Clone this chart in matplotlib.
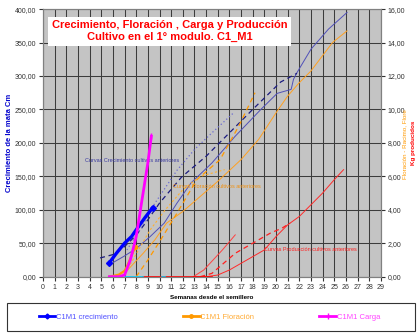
import matplotlib
matplotlib.use("Agg")
import matplotlib.pyplot as plt
from matplotlib.lines import Line2D
from matplotlib.patches import Rectangle
from matplotlib.ticker import FuncFormatter

plt.rcParams['font.family'] = ['Liberation Sans', 'DejaVu Sans']

# --- datos C1M1 (semanas, valor) ---
crec_sem = [5.7, 6.3, 7.0, 7.6, 8.0, 8.7, 9.4]
crec_val = [21, 35, 50, 60, 70, 87, 103]          # cm (eje izq.)

flor_sem = [5.7, 6.5, 7.0, 7.2, 7.9]
flor_val = [0.0, 0.12, 0.35, 0.6, 1.75]           # eje der.

carga_sem = [5.7, 6.0, 6.5, 7.0, 7.5, 8.0, 8.5, 9.0, 9.3]
carga_val = [0.0, 0.0, 0.0, 0.1, 1.0, 2.4, 4.6, 6.8, 8.4]   # eje der.

cyan_sem = [7.0, 7.5, 8.0, 8.6]
cyan_val = [0, 0, 0, 0]
cyan2_sem = [10.2, 10.5]
cyan2_val = [0, 0]
rojo0_sem = [8.6, 14.5]
rojo0_val = [0, 0]

# --- curvas cultivos anteriores ---
# crecimiento (eje izq.)
b1_sem = [5.9, 6.9, 8, 9.2, 10.4, 11.5, 12.7, 14.5, 16.5, 18.7, 20.1, 21.3, 21.5, 21.8, 23, 24.5, 26.1]
b1_val = [20, 30, 42, 60, 80, 110, 140, 170, 210, 250, 274, 280, 295, 305, 340, 370, 395]
b2_sem = [4.9, 6.0, 7.0, 8.0, 9.0, 10.0, 11.9, 14, 16, 18, 20.4, 21.8]
b2_val = [28, 33, 45, 62, 85, 110, 149, 180, 215, 250, 291, 304]
b3_sem = [7.2, 8.5, 9.5, 11.5, 13, 14.5, 16.3]
b3_val = [40, 75, 107, 159, 190, 215, 244]

# floracion (eje der.)
o1_sem = [7.0, 7.8, 8.6, 9.6, 10.6, 12, 13.5, 15, 17, 18.5, 20.1, 20.4, 21, 22, 23, 24.85, 26.1]
o1_val = [0.2, 0.8, 1.4, 2.2, 3.2, 3.9, 4.8, 5.7, 7.0, 8.2, 9.9, 10.2, 10.8, 11.6, 12.3, 14.0, 14.7]
o2_sem = [8.0, 9, 10.1, 11.5, 13.2, 15.2, 16.8, 18.2]
o2_val = [0, 1.0, 2.2, 3.8, 5.8, 7.0, 9.0, 11.0]
o3_sem = [7.3, 8.2, 9.2, 10.5, 12, 13.5, 15.6]
o3_val = [0.5, 1.6, 2.8, 4.0, 5.2, 6.0, 6.4]

# produccion (eje der.)
r1_sem = [13, 14, 15, 16, 17, 18, 19, 20, 21, 22, 23, 24, 25, 25.8]
r1_val = [0, 0, 0.1, 0.4, 0.8, 1.2, 1.6, 2.4, 3.1, 3.6, 4.3, 5.0, 5.8, 6.4]
r2_sem = [13.5, 14.5, 15.5, 16.5, 17.5, 18.5, 19.5, 20.5, 21.2]
r2_val = [0, 0.2, 0.8, 1.4, 1.8, 2.2, 2.6, 2.9, 3.2]
r3_sem = [12.9, 13.8, 14.6, 15.4, 16.5]
r3_val = [0, 0.4, 1.0, 1.6, 2.5]

semanas = list(range(0, 30))


def coma(v, pos):
    return f"{v:.2f}".replace(".", ",")


fig = plt.figure(figsize=(4.19, 3.36), dpi=100)
ax = fig.add_axes([0.1026, 0.1765, 0.8064, 0.7965])
ax.set_facecolor("#c4c4c4")
ax2 = ax.twinx()

# rejilla
ax.set_xticks(semanas)
ax.set_yticks(range(0, 401, 50))
ax.grid(True, color="#3c3c3c", lw=0.75)
ax.set_axisbelow(True)
ax.set_xlim(0, 29)
ax.set_ylim(0, 400)
ax2.set_ylim(0, 16)
ax2.set_yticks(range(0, 17, 2))
ax.yaxis.set_major_formatter(FuncFormatter(coma))
ax2.yaxis.set_major_formatter(FuncFormatter(coma))
for a in (ax, ax2):
    a.tick_params(labelsize=5, length=3, width=0.8, pad=2, colors="#333333")
    for s in a.spines.values():
        s.set_color("#808080")
        s.set_linewidth(0.8)

# curvas anteriores
ax.plot(b1_sem, b1_val, color="#5050b8", lw=0.7)
ax.plot(b2_sem, b2_val, color="#1c1c80", lw=0.9, ls=(0, (4, 3)))
ax.plot(b3_sem, b3_val, color="#6a6ad0", lw=0.9, ls=(0, (1, 2)))
ax.text(3.6, 172, "Curvas Crecimiento cultivos anteriores", color="#3a3aa0", fontsize=4)

ax2.plot(o1_sem, o1_val, color="#ffa020", lw=0.7)
ax2.plot(o2_sem, o2_val, color="#ff9900", lw=0.9, ls=(0, (4, 3)))
ax2.plot(o3_sem, o3_val, color="#ffb030", lw=0.8, ls=(0, (2, 2)))
ax2.text(11.2, 5.3, "Curvas Floración cultivos anteriores", color="#f09010", fontsize=4)

ax2.plot(r1_sem, r1_val, color="#ff2a2a", lw=0.7)
ax2.plot(r2_sem, r2_val, color="#ff2020", lw=0.9, ls=(0, (4, 3)))
ax2.plot(r3_sem, r3_val, color="#ff4040", lw=0.7)
ax2.text(19.0, 1.55, "Curvas Producción cultivos anteriores", color="#ff2020", fontsize=4)

# C1M1
ax2.plot(rojo0_sem, rojo0_val, color="#ff0000", lw=1.2)
ax2.plot(cyan_sem, cyan_val, color="#00ccff", lw=1.2)
ax2.plot(cyan2_sem, cyan2_val, color="#00ccff", lw=1.2)
ax.plot(crec_sem, crec_val, color="#0000ff", lw=2.4, marker="D", ms=3,
        markevery=[0, len(crec_sem) - 1])
ax2.plot(flor_sem, flor_val, color="#ff9900", lw=1.6, marker="o", ms=3,
         markevery=[len(flor_sem) - 1])
ax2.plot(carga_sem, carga_val, color="#ff00ff", lw=2.0, marker="|", ms=4,
         markevery=[len(carga_sem) - 1])

# titulo
ax.text(0.375, 0.918, "Crecimiento, Floración , Carga y Producción\nCultivo en el 1° modulo. C1_M1",
        transform=ax.transAxes, ha="center", va="center", color="#ff0000",
        fontsize=8, fontweight="bold", linespacing=1.25,
        bbox=dict(facecolor="white", edgecolor="none", pad=2.5))

ax.set_ylabel("Crecimiento de la mata Cm", color="#0000cc", fontsize=5.5,
              fontweight="bold", labelpad=1)
ax.set_xlabel("Semanas desde el semillero", fontsize=4.5, fontweight="bold", labelpad=3)
fig.text(0.967, 0.57, "Floración - Racimo, Flore", rotation=90, color="#ff9900",
         fontsize=4.5, ha="center", va="center")
fig.text(0.988, 0.575, "Kg producidos", rotation=90, color="#ff0000",
         fontsize=4.5, ha="center", va="center", fontweight="bold")

# leyenda
fig.patches.append(Rectangle((0.017, 0.015), 0.974, 0.083, transform=fig.transFigure,
                             facecolor="white", edgecolor="#333333", lw=0.8))
handles = [
    Line2D([], [], color="#0000ff", lw=2, marker="D", ms=2.5),
    Line2D([], [], color="#ff9900", lw=2, marker="o", ms=2.5),
    Line2D([], [], color="#ff00ff", lw=2, marker="|", ms=4),
]
labels = ["C1M1 crecimiento", "C1M1 Floración", "C1M1 Carga"]
leg = fig.legend(handles, labels, loc="center", ncol=3, frameon=False, fontsize=5.5,
                 bbox_to_anchor=(0.5, 0.057), columnspacing=8.5, handlelength=2.2,
                 handletextpad=0.1)
for t, c in zip(leg.get_texts(), ["#5050ff", "#ffaa33", "#ff44ff"]):
    t.set_color(c)

fig.savefig("out.png", dpi=100)
